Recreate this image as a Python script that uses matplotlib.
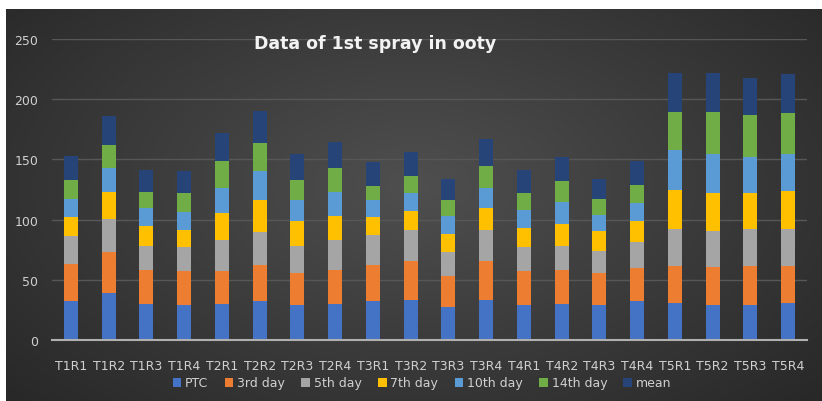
import matplotlib.pyplot as plt
import numpy as np

labels = ['T1R1', 'T1R2', 'T1R3', 'T1R4', 'T2R1', 'T2R2', 'T2R3', 'T2R4', 'T3R1', 'T3R2',
          'T3R3', 'T3R4', 'T4R1', 'T4R2', 'T4R3', 'T4R4', 'T5R1', 'T5R2', 'T5R3', 'T5R4']

ptc     = [32.4, 38.8, 30.2, 29.3, 30.2, 32.4, 29.3, 30.2, 32.4, 33.5,
           27.1, 33.5, 29.3, 30.2, 29.3, 32.4, 30.5, 29.3, 29.3, 30.5]
day3    = [31.0, 34.3, 27.9, 27.7, 26.8, 30.2, 26.6, 27.9, 30.2, 32.1,
           25.8, 32.1, 27.7, 27.9, 26.6, 27.7, 31.0, 31.1, 32.2, 31.0]
day5    = [22.7, 27.7, 20.2, 20.2, 25.8, 27.4, 22.4, 24.7, 24.3, 25.4,
           20.2, 25.5, 20.2, 20.2, 18.3, 21.6, 31.0, 29.9, 31.0, 31.0]
day7    = [15.8, 22.4, 16.1, 14.2, 22.4, 26.0, 20.5, 20.2, 15.0, 16.1,
           14.9, 18.3, 16.1, 18.3, 16.1, 17.1, 31.8, 32.1, 29.9, 31.0]
day10   = [14.9, 19.4, 15.0, 14.9, 21.3, 24.4, 17.2, 20.2, 14.1, 15.0,
           15.0, 17.1, 15.0, 18.3, 13.8, 14.7, 33.2, 32.1, 29.9, 31.0]
day14   = [16.1, 19.4, 13.8, 16.1, 22.4, 23.5, 16.9, 19.4, 11.6, 13.8,
           13.0, 18.3, 13.8, 16.9, 12.7, 15.2, 32.1, 35.1, 34.3, 34.0]
mean    = [20.2, 24.3, 18.0, 18.0, 23.3, 26.6, 21.3, 22.1, 20.2, 20.2,
           18.0, 22.4, 19.1, 20.2, 17.2, 20.2, 32.2, 32.2, 31.0, 32.2]

series = [ptc, day3, day5, day7, day10, day14, mean]
names = ['PTC', '3rd day', '5th day', '7th day', '10th day', '14th day', 'mean']
colors = ['#4472C4', '#ED7D31', '#A5A5A5', '#FFC000', '#5B9BD5', '#70AD47', '#264478']

fig = plt.figure(figsize=(8.22, 4.02), dpi=100, facecolor='white')

# dark radial background of the chart area
bg = fig.add_axes([6/822, 0, 815/822, 392/402], zorder=-1)
yy, xx = np.mgrid[0:1:200j, 0:1:400j]
r = np.sqrt(((xx - 0.5) / 0.75) ** 2 + ((yy - 0.45) / 0.9) ** 2)
shade = np.clip(0.31 - 0.17 * r, 0.15, 0.31)
bg.imshow(np.dstack([shade] * 3), aspect='auto', extent=[0, 1, 0, 1])
bg.axis('off')

ax = fig.add_axes([52/822, 61/402, 755/822, 301/402])
ax.set_facecolor('none')

x = np.arange(len(labels))
bottom = np.zeros(len(labels))
for vals, name, c in zip(series, names, colors):
    ax.bar(x, vals, 0.37, bottom=bottom, color=c, label=name, zorder=3)
    bottom += np.array(vals)

ax.set_xlim(-0.5, len(labels) - 0.5)
ax.set_ylim(0, 250)
ax.set_yticks([0, 50, 100, 150, 200, 250])
ax.set_xticks(x)
ax.set_xticklabels(labels)
ax.tick_params(axis='both', length=0, colors='#d0d0d0', labelsize=9)
ax.tick_params(axis='x', pad=14)
ax.tick_params(axis='y', pad=10)
ax.grid(axis='y', color='#575757', linewidth=1, zorder=0)
for s in ['top', 'right', 'left']:
    ax.spines[s].set_visible(False)
ax.spines['bottom'].set_color('#b0b0b0')
ax.spines['bottom'].set_linewidth(1.5)
ax.spines['bottom'].set_zorder(4)

fig.text(375/822, 1 - 44/402, 'Data of 1st spray in ooty', color='#f2f2f2',
         fontsize=12.5, fontweight='bold', ha='center', va='center')

ax.legend(loc='center', bbox_to_anchor=(422/822, 1 - 384/402), bbox_transform=fig.transFigure,
          ncol=7, frameon=False, fontsize=9, labelcolor='#d0d0d0',
          handlelength=0.7, handleheight=0.7, handletextpad=0.3, columnspacing=1.3)

fig.savefig('out.png', dpi=100, facecolor='white')
